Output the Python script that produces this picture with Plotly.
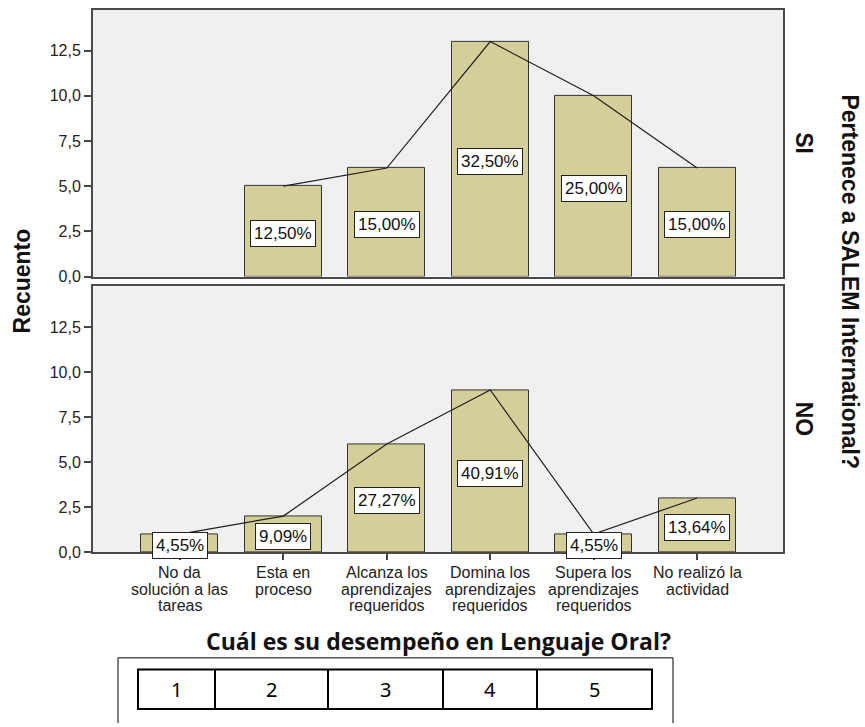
import plotly.graph_objects as go

# ---- data -------------------------------------------------------------
tick_labels = [
    ["No da", "solución a las", "tareas"],
    ["Esta en", "proceso"],
    ["Alcanza los", "aprendizajes", "requeridos"],
    ["Domina los", "aprendizajes", "requeridos"],
    ["Supera los", "aprendizajes", "requeridos"],
    ["No realizó la", "actividad"],
]
counts_si = [0, 5, 6, 13, 10, 6]
counts_no = [1, 2, 6, 9, 1, 3]
panel_labels = ["SI", "NO"]
y_ticks = [0, 2.5, 5, 7.5, 10, 12.5]
table_numbers = ["1", "2", "3", "4", "5"]

# ---- layout helpers ---------------------------------------------------
W, H = 865, 727
def fx(px):
    return px / W
def fy(py):
    return 1 - py / H

FONT = "Liberation Sans, Arial, sans-serif"
BAR_FILL = "#D4CF99"
BAR_EDGE = "#333333"
FRAME = "#4a4a4a"

x_dom = [fx(93), fx(783)]
y_doms = [[fy(280), fy(10)], [fy(559), fy(290)]]
x_range = [-0.84, 5.83]
y_range = [0, 14.75]

def paper_text(x, y, text, size, family=FONT, angle=0, color="#111"):
    return dict(x=fx(x), y=fy(y), xref="paper", yref="paper", text=text,
                textangle=angle, showarrow=False, xanchor="center", yanchor="middle",
                font=dict(family=family, size=size, color=color))

fig = go.Figure()
annotations = []

for k, counts in enumerate([counts_si, counts_no]):
    xa = "x" if k == 0 else "x2"
    ya = "y" if k == 0 else "y2"
    idx = list(range(len(counts)))
    total = sum(counts)
    shown = [c if c > 0 else None for c in counts]

    fig.add_trace(go.Bar(
        x=idx, y=shown, width=0.745,
        marker=dict(color=BAR_FILL, line=dict(color=BAR_EDGE, width=1)),
        xaxis=xa, yaxis=ya, showlegend=False, hoverinfo="skip",
    ))
    pts = [(i, c) for i, c in zip(idx, counts) if c > 0]
    fig.add_trace(go.Scatter(
        x=[p[0] for p in pts], y=[p[1] for p in pts], mode="lines",
        line=dict(color="#1e1e1e", width=1.2),
        xaxis=xa, yaxis=ya, showlegend=False, hoverinfo="skip",
    ))
    for i, c in pts:
        pct = f"{100 * c / total:.2f}".replace(".", ",") + "%"
        annotations.append(dict(
            x=i, y=c / 2 - 0.12, xref=xa, yref=ya, text=pct, showarrow=False,
            xanchor="center", yanchor="middle",
            font=dict(family=FONT, size=17, color="#111"),
            bgcolor="white", bordercolor="#222", borderwidth=1, borderpad=3,
        ))

axis_common = dict(showline=True, mirror=True, linecolor=FRAME, linewidth=2,
                   showgrid=False, zeroline=False)
yaxis_cfg = dict(axis_common, range=y_range, tickvals=y_ticks, tickformat=".1f",
                 ticks="outside", ticklen=7, tickcolor="#444", tickwidth=1.5,
                 tickfont=dict(family=FONT, size=16, color="#222"))

fig.update_layout(
    width=W, height=H, autosize=False,
    margin=dict(l=0, r=0, t=0, b=0),
    paper_bgcolor="white", plot_bgcolor="#F0F0F0",
    separators=",.",
    bargap=0,
    xaxis=dict(axis_common, domain=x_dom, range=x_range, anchor="y",
               showticklabels=False, ticks=""),
    yaxis=dict(yaxis_cfg, domain=y_doms[0], anchor="x"),
    xaxis2=dict(axis_common, domain=x_dom, range=x_range, anchor="y2",
                tickvals=list(range(len(tick_labels))), showticklabels=False,
                ticks="outside", ticklen=6, tickcolor="#444", tickwidth=1.5),
    yaxis2=dict(yaxis_cfg, domain=y_doms[1], anchor="x2"),
)

# category labels under the lower panel, tightly line-spaced
first_line_y, line_step = 580, 16.5
for i, lines in enumerate(tick_labels):
    for j, line in enumerate(lines):
        annotations.append(dict(x=i, y=fy(first_line_y + j * line_step),
                                xref="x2", yref="paper", text=line, showarrow=False,
                                xanchor="center", yanchor="middle",
                                font=dict(family=FONT, size=16, color="#222")))

# axis / facet titles
annotations.append(paper_text(22, 285, "<b>Recuento</b>", 23, angle=-90))
for lbl, yc in zip(panel_labels, [145, 424]):
    annotations.append(paper_text(804, yc, f"<b>{lbl}</b>", 23, angle=90))
annotations.append(paper_text(850, 285, "<b>Pertenece a SALEM International?</b>", 23, angle=90))
annotations.append(paper_text(438, 649, "<b>Cuál es su desempeño en Lenguaje Oral?</b>", 23,
                              family="Open Sans, Noto Sans, sans-serif"))

# numbered strip below the chart
shapes = []
outer_l, outer_r, outer_t = 118, 673, 666
for x0, y0, x1, y1 in [(outer_l, outer_t, outer_r, outer_t),
                       (outer_l, outer_t, outer_l, H + 5),
                       (outer_r, outer_t, outer_r, H + 5)]:
    shapes.append(dict(type="line", xref="paper", yref="paper",
                       x0=fx(x0), y0=fy(y0), x1=fx(x1), y1=fy(y1),
                       line=dict(color="#555", width=1.5)))
cell_edges = [138, 215, 328, 443, 537, 652]
row_top, row_bot = 678, 718
shapes.append(dict(type="rect", xref="paper", yref="paper",
                   x0=fx(cell_edges[0]), x1=fx(cell_edges[-1]),
                   y0=fy(row_bot), y1=fy(row_top),
                   line=dict(color="black", width=2)))
for xe in cell_edges[1:-1]:
    shapes.append(dict(type="line", xref="paper", yref="paper",
                       x0=fx(xe), x1=fx(xe), y0=fy(row_bot), y1=fy(row_top),
                       line=dict(color="black", width=2)))
for num, a, b in zip(table_numbers, cell_edges[:-1], cell_edges[1:]):
    annotations.append(paper_text((a + b) / 2, (row_top + row_bot) / 2, num, 20,
                                  family="Noto Sans, sans-serif", color="black"))

fig.update_layout(annotations=annotations, shapes=shapes)
fig.write_html("out.html")
